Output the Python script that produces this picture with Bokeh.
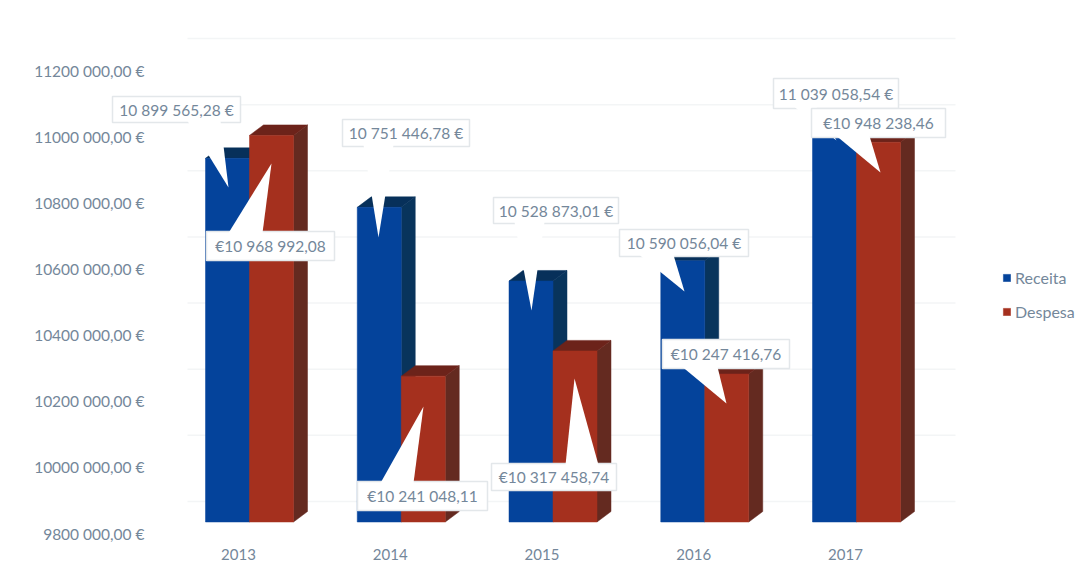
from bokeh.plotting import figure
from bokeh.models import Range1d, LinearAxis, FixedTicker, Legend, LegendItem
from bokeh.core.properties import value
from bokeh.embed import file_html
from bokeh.resources import INLINE

years = [2013, 2014, 2015, 2016, 2017]
receita = [10899565.28, 10751446.78, 10528873.01, 10590056.04, 11039058.54]
despesa = [10968992.08, 10241048.11, 10317458.74, 10247416.76, 10948238.46]
receita_labels = ["10 899 565,28 €", "10 751 446,78 €", "10 528 873,01 €", "10 590 056,04 €", "11 039 058,54 €"]
despesa_labels = ["€10 968 992,08", "€10 241 048,11", "€10 317 458,74", "€10 247 416,76", "€10 948 238,46"]
y_ticks = [9800000, 10000000, 10200000, 10400000, 10600000, 10800000, 11000000, 11200000]
y_tick_labels = ["9800 000,00 €", "10000 000,00 €", "10200 000,00 €", "10400 000,00 €",
                 "10600 000,00 €", "10800 000,00 €", "11000 000,00 €", "11200 000,00 €"]

# layout in page pixels
W, H = 1078, 562
F_L, F_R, F_T, F_B = 100, 1078, 20, 547
X_SCALE = 151.75           # px per year
X_2013 = 238.0
Y_SCALE = 66.14 / 200000   # px per euro
Y_98 = 533.0

def xd(px):
    return 2013 + (px - X_2013) / X_SCALE

def yd(py):
    return 9800000 + (Y_98 - py) / Y_SCALE

p = figure(width=W, height=H, output_backend="svg", toolbar_location=None,
           x_range=Range1d(xd(F_L), xd(F_R)), y_range=Range1d(yd(F_B), yd(F_T)),
           min_border_left=F_L, min_border_right=0, min_border_top=F_T,
           min_border_bottom=H - F_B, x_axis_type=None, y_axis_type=None)
p.outline_line_color = None
p.xgrid.visible = False
p.ygrid.visible = False
p.background_fill_color = "white"

TXT = "#74879a"
FONT = "Lato"

yax = LinearAxis(ticker=FixedTicker(ticks=y_ticks),
                 major_label_overrides={t: s for t, s in zip(y_ticks, y_tick_labels)})
xax = LinearAxis(ticker=FixedTicker(ticks=years),
                 major_label_overrides={y: str(y) for y in years})
for ax in (xax, yax):
    ax.axis_line_color = None
    ax.major_tick_line_color = None
    ax.minor_tick_line_color = None
    ax.major_label_text_color = TXT
    ax.major_label_text_font = FONT
    ax.major_label_text_font_size = "15px"
yax.major_label_text_font_size = "15.5px"
yax.major_label_standoff = -(150 - F_L)
xax.major_label_standoff = -5
p.add_layout(yax, "left")
p.add_layout(xax, "below")

# back-wall gridlines (sit 32 px above the matching axis label)
GRID_SHIFT = 32 / Y_SCALE
p.segment(x0=[xd(187)] * len(y_ticks), x1=[xd(955)] * len(y_ticks),
          y0=[t + GRID_SHIFT for t in y_ticks], y1=[t + GRID_SHIFT for t in y_ticks],
          line_color="#f3f5f6", line_width=1.5)

# 3D bars: front plane sits 11.5 px above the axis label scale
FRONT = 11.5 / Y_SCALE
DX = 14 / X_SCALE
DY = 10.5 / Y_SCALE
BW = 44 / X_SCALE
OFF = 11 / X_SCALE
BASE = y_ticks[0]

def bar(x_left, val, front, side, top):
    x_r = x_left + BW
    b, t = BASE + FRONT, val + FRONT
    p.patch([x_r, x_r + DX, x_r + DX, x_r], [b, b + DY, t + DY, t], fill_color=side, line_color=side, line_width=0.5)
    p.patch([x_left, x_left + DX, x_r + DX, x_r], [t, t + DY, t + DY, t], fill_color=top, line_color=top, line_width=0.5)
    return p.vbar(x=[x_left + BW / 2], width=BW, bottom=[b], top=[t], fill_color=front, line_color=front, line_width=0.5)

BLUE, BLUE_S, BLUE_T = "#04439b", "#08345c", "#07305a"
RED, RED_S, RED_T = "#a5301e", "#642a20", "#6c231a"
r_rec = r_des = None
for yr, r, d in zip(years, receita, despesa):
    c = yr + OFF
    r_rec = bar(c - BW, r, BLUE, BLUE_S, BLUE_T)
    r_des = bar(c, d, RED, RED_S, RED_T)

# callouts: (box x0, y0, x1, y1), (tail x0, tail x1, tip x, tip y, attaches at 'b'ottom / 't'op)
rec_boxes = [(112, 96, 240, 122), (342, 119, 469, 146), (493, 197, 618, 223), (619, 229, 748, 256), (773, 78, 898, 108)]
rec_tails = [(187, 220, 228, 187, "b"), (363, 393, 378, 237, "b"), (514, 544, 531, 310, "b"), (639, 673, 684, 291, "b"), (794, 816, 836, 140, "b")]
des_boxes = [(206, 231, 334, 260), (357, 481, 487, 510), (491, 463, 616, 490), (662, 339, 789, 368), (811, 108, 945, 137)]
des_tails = [(228, 262, 271, 163, "t"), (380, 413, 423, 406, "t"), (565, 598, 574, 378, "t"), (682, 717, 726, 403, "b"), (836, 869, 880, 172, "b")]

def callout(box, tail, text):
    x0, y0, x1, y1 = box
    a, b, tx, ty, side = tail
    ey = y1 - 1.5 if side == "b" else y0 + 1.5
    edge = "#e3e7ea"
    p.quad(left=[xd(x0)], right=[xd(x1)], top=[yd(y0)], bottom=[yd(y1)],
           fill_color="white", line_color=edge, line_width=1.5)
    p.patch([xd(a), xd(tx), xd(b)], [yd(ey), yd(ty), yd(ey)], fill_color="white", line_color=None)
    p.text(x=[xd((x0 + x1) / 2)], y=[yd((y0 + y1) / 2)], text=[text], text_align="center",
           text_baseline="middle", text_color=TXT, text_font=value(FONT), text_font_size="15.5px")

for box, tail, s in zip(rec_boxes, rec_tails, receita_labels):
    callout(box, tail, s)
for box, tail, s in zip(des_boxes, des_tails, despesa_labels):
    callout(box, tail, s)

legend = Legend(items=[LegendItem(label="Receita", renderers=[r_rec]),
                       LegendItem(label="Despesa", renderers=[r_des])],
                location=(1008 - F_L - 6, F_B - 315 - 6), orientation="vertical",
                background_fill_alpha=0, border_line_color=None,
                glyph_width=9, glyph_height=9, label_standoff=4, spacing=15,
                label_text_font=FONT, label_text_font_size="16px", label_text_color=TXT,
                padding=6, margin=0, label_height=18)
p.add_layout(legend)

open("out.html", "w").write(file_html(p, INLINE))
